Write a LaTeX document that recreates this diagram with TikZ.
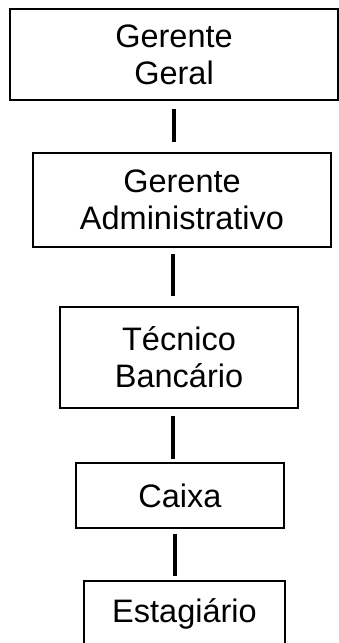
\documentclass[tikz,border=0pt]{standalone}
\usepackage{fontspec}
\setmainfont{Liberation Sans}
\begin{document}
\begin{tikzpicture}[x=1pt,y=-1pt,
  box/.style={draw=black,line width=2.6pt,fill=white,inner sep=0pt,align=center,
    font=\fontsize{32.5}{37}\selectfont},
  conn/.style={line width=4pt}]
\useasboundingbox (0,0) rectangle (339,643);
\node[box,minimum width=328pt,minimum height=91pt] (b1) at (174,54.5) {Gerente\\Geral};
\node[box,minimum width=298pt,minimum height=94pt] (b2) at (182,200) {Gerente\\Administrativo};
\node[box,minimum width=238pt,minimum height=101pt] (b3) at (179,357.5) {Técnico\\Bancário};
\node[box,minimum width=208pt,minimum height=65pt] (b4) at (180,495.5) {Caixa};
\node[box,minimum width=201pt,minimum height=65pt] (b5) at (184.5,613.5) {Estagiário};
\draw[conn,shorten <=8pt,shorten >=10pt] (b1.south) -- (b1.south |- b2.north);
\draw[conn,shorten <=6pt,shorten >=10pt] ([xshift=-9pt]b2.south) -- ([xshift=-9pt]b2.south |- b3.north);
\draw[conn,shorten <=7pt,shorten >=3pt] ([xshift=-6pt]b3.south) -- ([xshift=-6pt]b3.south |- b4.north);
\draw[conn,shorten <=5pt,shorten >=4pt] ([xshift=-5pt]b4.south) -- ([xshift=-5pt]b4.south |- b5.north);
\end{tikzpicture}
\end{document}
